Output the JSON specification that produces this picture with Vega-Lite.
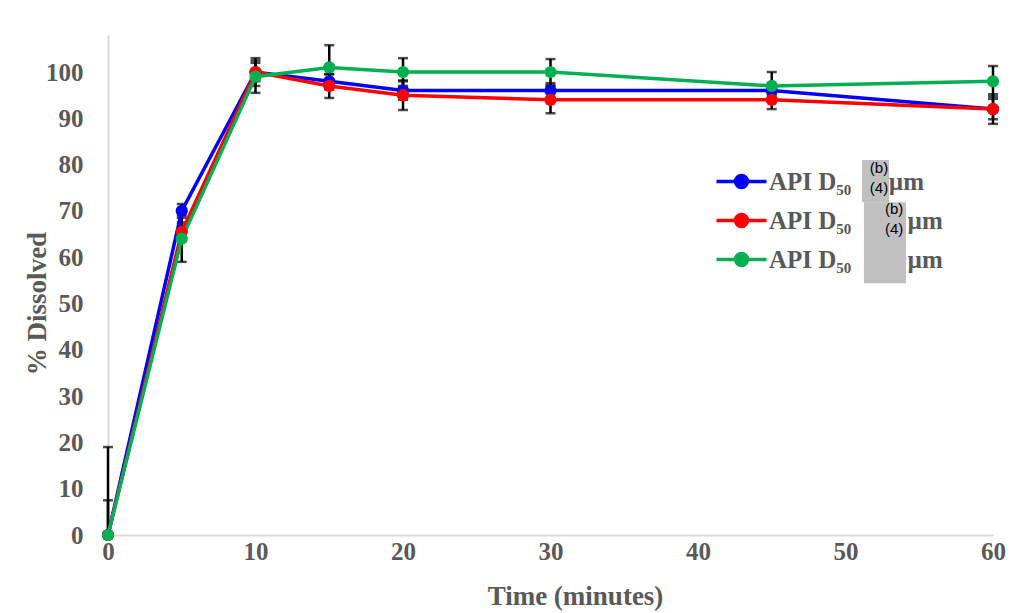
{
  "$schema": "https://vega.github.io/schema/vega-lite/v6.json",
  "width": 885,
  "height": 500,
  "autosize": {"type": "none"},
  "padding": {"left": 108, "top": 35, "right": 23, "bottom": 78},
  "background": "white",
  "config": {
    "view": {"stroke": null},
    "axis": {
      "grid": false,
      "ticks": false,
      "domainColor": "#d9d9d9",
      "domainWidth": 2,
      "labelFlush": false,
      "labelFont": "Liberation Serif",
      "labelFontWeight": "bold",
      "labelFontSize": 25,
      "labelColor": "#595959",
      "titleFont": "Liberation Serif",
      "titleFontWeight": "bold",
      "titleFontSize": 27,
      "titleColor": "#595959"
    }
  },
  "datasets": {
    "diss": [
      {"t": 0, "s": "s1", "v": 0, "lo": 0, "hi": 7.5},
      {"t": 5, "s": "s1", "v": 70, "lo": 68.5, "hi": 71.5},
      {"t": 10, "s": "s1", "v": 100, "lo": 98, "hi": 102},
      {"t": 15, "s": "s1", "v": 98, "lo": 96.5, "hi": 99.5},
      {"t": 20, "s": "s1", "v": 96, "lo": 94, "hi": 98},
      {"t": 30, "s": "s1", "v": 96, "lo": 94.5, "hi": 97.6},
      {"t": 45, "s": "s1", "v": 96, "lo": 95, "hi": 97},
      {"t": 60, "s": "s1", "v": 92, "lo": 88.8, "hi": 95.2},
      {"t": 0, "s": "s2", "v": 0, "lo": 0, "hi": 0},
      {"t": 5, "s": "s2", "v": 65.5, "lo": 63.5, "hi": 67.5},
      {"t": 10, "s": "s2", "v": 100, "lo": 97, "hi": 103},
      {"t": 15, "s": "s2", "v": 97, "lo": 94.4, "hi": 99.6},
      {"t": 20, "s": "s2", "v": 95, "lo": 91.8, "hi": 98.2},
      {"t": 30, "s": "s2", "v": 94, "lo": 91.1, "hi": 96.9},
      {"t": 45, "s": "s2", "v": 94, "lo": 92, "hi": 96},
      {"t": 60, "s": "s2", "v": 92, "lo": 89.8, "hi": 94.2},
      {"t": 0, "s": "s3", "v": 0, "lo": 0, "hi": 19},
      {"t": 5, "s": "s3", "v": 64, "lo": 59, "hi": 69},
      {"t": 10, "s": "s3", "v": 99, "lo": 95.5, "hi": 102.5},
      {"t": 15, "s": "s3", "v": 101, "lo": 96.2, "hi": 105.8},
      {"t": 20, "s": "s3", "v": 100, "lo": 97, "hi": 103},
      {"t": 30, "s": "s3", "v": 100, "lo": 97.2, "hi": 102.8},
      {"t": 45, "s": "s3", "v": 97, "lo": 94, "hi": 100},
      {"t": 60, "s": "s3", "v": 98, "lo": 94.7, "hi": 101.3}
    ],
    "redact": [
      {"x1": 51.12, "x2": 52.95, "y1": 81.0, "y2": 71.9},
      {"x1": 51.25, "x2": 54.1, "y1": 71.9, "y2": 54.4}
    ],
    "redtext": [
      {"x": 52.27, "y": 79.3, "txt": "(b)"},
      {"x": 52.27, "y": 74.9, "txt": "(4)"},
      {"x": 53.3, "y": 70.4, "txt": "(b)"},
      {"x": 53.3, "y": 66.1, "txt": "(4)"}
    ]
  },
  "layer": [
    {
      "data": {"name": "diss"},
      "mark": {"type": "rule", "color": "black", "strokeWidth": 2.5},
      "encoding": {
        "x": {"field": "t", "type": "quantitative", "scale": {"domain": [0, 60]},
          "axis": {"values": [0, 10, 20, 30, 40, 50, 60], "title": "Time (minutes)", "labelPadding": 4, "titleX": 467, "titleY": 61, "titleBaseline": "middle"}},
        "y": {"field": "lo", "type": "quantitative", "scale": {"domain": [0, 108], "nice": false},
          "axis": {"values": [0, 10, 20, 30, 40, 50, 60, 70, 80, 90, 100], "title": "% Dissolved", "labelPadding": 25, "titleX": -71, "titleY": 268, "titleBaseline": "middle", "titleAngle": -90}},
        "y2": {"field": "hi"}
      }
    },
    {
      "data": {"name": "diss"},
      "mark": {"type": "tick", "orient": "horizontal", "size": 10, "thickness": 2.5, "color": "black"},
      "encoding": {
        "x": {"field": "t", "type": "quantitative"},
        "y": {"field": "lo", "type": "quantitative"}
      }
    },
    {
      "data": {"name": "diss"},
      "mark": {"type": "tick", "orient": "horizontal", "size": 10, "thickness": 2.5, "color": "black"},
      "encoding": {
        "x": {"field": "t", "type": "quantitative"},
        "y": {"field": "hi", "type": "quantitative"}
      }
    },
    {
      "data": {"name": "diss"},
      "mark": {"type": "line", "strokeWidth": 3.5},
      "encoding": {
        "x": {"field": "t", "type": "quantitative"},
        "y": {"field": "v", "type": "quantitative"},
        "color": {
          "field": "s", "type": "nominal",
          "scale": {"domain": ["s1", "s2", "s3"], "range": ["#0000ff", "#ff0000", "#00b050"]},
          "legend": {
            "title": null,
            "orient": "none",
            "legendX": 621,
            "legendY": 134,
            "symbolType": "M-2.5,0L2.5,0M0.6,0A0.6,0.6,0,1,1,-0.6,0A0.6,0.6,0,1,1,0.6,0Z",
            "symbolSize": 400,
            "symbolStrokeWidth": 3.5,
            "labelFont": "Liberation Serif",
            "labelFontWeight": "bold",
            "labelFontSize": 25,
            "labelColor": "#595959",
            "labelOffset": 15,
            "labelLimit": 500,
            "rowPadding": 12,
            "labelExpr": "datum.label == 's1' ? 'API D₅₀\u00a0\u00a0\u00a0\u00a0\u00a0\u00a0µm' : 'API D₅₀\u00a0\u00a0\u00a0\u00a0\u00a0\u00a0\u00a0\u00a0\u00a0µm'",
            "encode": {"symbols": {"update": {"fill": {"scale": "color", "field": "value"}, "stroke": {"scale": "color", "field": "value"}}}}
          }
        }
      }
    },
    {
      "data": {"name": "diss"},
      "mark": {"type": "point", "filled": true, "size": 150, "opacity": 1},
      "encoding": {
        "x": {"field": "t", "type": "quantitative"},
        "y": {"field": "v", "type": "quantitative"},
        "color": {"field": "s", "type": "nominal"}
      }
    },
    {
      "data": {"name": "redact"},
      "mark": {"type": "rect", "color": "#c0c0c0"},
      "encoding": {
        "x": {"field": "x1", "type": "quantitative"},
        "x2": {"field": "x2"},
        "y": {"field": "y1", "type": "quantitative"},
        "y2": {"field": "y2"}
      }
    },
    {
      "data": {"name": "redtext"},
      "mark": {"type": "text", "font": "Liberation Sans", "fontSize": 15, "color": "black"},
      "encoding": {
        "x": {"field": "x", "type": "quantitative"},
        "y": {"field": "y", "type": "quantitative"},
        "text": {"field": "txt"}
      }
    }
  ]
}
